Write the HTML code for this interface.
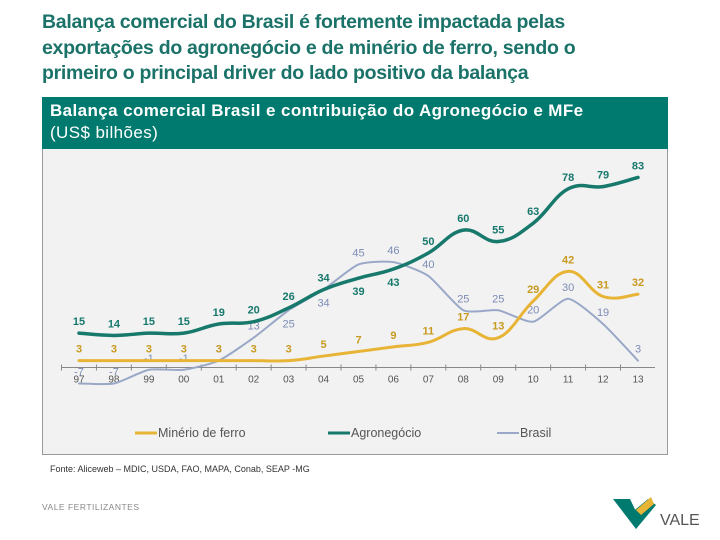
<!DOCTYPE html>
<html><head><meta charset="utf-8"><style>
body{margin:0;width:720px;height:540px;background:#fff;font-family:"Liberation Sans",sans-serif;position:relative;overflow:hidden}
.t{position:absolute;left:42px;top:10px;font-size:19.5px;font-weight:bold;color:#1a7268;line-height:25.5px;letter-spacing:-0.3px}
.hdr{position:absolute;left:42px;top:97px;width:626px;height:52px;background:#007a6e;color:#fff;font-size:17px;letter-spacing:0.4px;box-sizing:border-box;padding:3px 8px;line-height:22px}
.box{position:absolute;left:42px;top:149px;width:626px;height:306px;background:#f2f2f2;border:1px solid #999;border-top:none;box-sizing:border-box}
svg{position:absolute;left:0;top:0}
</style></head><body>
<div class="t">Balança comercial do Brasil é fortemente impactada pelas<br>exportações do agronegócio e de minério de ferro, sendo o<br>primeiro o principal driver do lado positivo da balança</div>
<div class="hdr"><b>Balança comercial Brasil e contribuição do Agronegócio e MFe</b><br>(US$ bilhões)</div>
<div class="box"></div>
<svg id="c" width="720" height="540"></svg>
<div style="position:absolute;left:50px;top:464px;font-size:9px;color:#333">Fonte: Aliceweb – MDIC, USDA, FAO, MAPA, Conab, SEAP -MG</div>
<div style="position:absolute;left:42px;top:502px;font-size:8.5px;color:#888;letter-spacing:0.5px">VALE FERTILIZANTES</div>
<svg width="720" height="540" style="pointer-events:none">
<polygon points="613,499 630,499 641,522 636,529" fill="#007a6e"/><polygon points="630,514 648,499 656,505 636,529" fill="#007a6e"/><polygon points="636,510 651,497 654,504 641,515" fill="#e8b436"/>
<text x="660" y="525" font-size="16" fill="#555" font-family="Liberation Sans">VALE</text></svg>
<script>
const years=["97","98","99","00","01","02","03","04","05","06","07","08","09","10","11","12","13"];
const minerio=[3,3,3,3,3,3,3,5,7,9,11,17,13,29,42,31,32];
const agro=[15,14,15,15,19,20,26,34,39,43,50,60,55,63,78,79,83];
const brasil=[-7,-7,-1,-1,3,13,25,34,45,46,40,25,25,20,30,19,3];
const agroBelow=[8,9];
const brasilBelow=[6,7];
const svg=document.getElementById('c');const NS='http://www.w3.org/2000/svg';
const x0=79,x1=638,y0=367.5,k=2.29;
const X=i=>x0+(x1-x0)*i/(years.length-1);
const Y=v=>y0-v*k;
function el(t,a,p){const e=document.createElementNS(NS,t);for(const n in a)e.setAttribute(n,a[n]);(p||svg).appendChild(e);return e;}
function path(vals,t){const p=vals.map((v,i)=>[X(i),Y(v)]);let d='M'+p[0];for(let i=0;i<p.length-1;i++){const a=p[Math.max(i-1,0)],b=p[i],c=p[i+1],e=p[Math.min(i+2,p.length-1)];d+=` C${b[0]+(c[0]-a[0])*t},${b[1]+(c[1]-a[1])*t} ${c[0]-(e[0]-b[0])*t},${c[1]-(e[1]-b[1])*t} ${c[0]},${c[1]}`;}return d;}
const ax=el('line',{x1:62,x2:655,y1:y0,y2:y0,stroke:'#888','stroke-width':1});

years.forEach((y,i)=>{const tk=el('line',{x1:X(i)-17.5,x2:X(i)-17.5,y1:y0-3,y2:y0+3,stroke:'#888'});

const t=el('text',{x:X(i),y:y0+15,'text-anchor':'middle','font-size':10,fill:'#555'});t.textContent=y;
});
function series(vals,color,w,lc,name,below,lbl,ten){
const p=el('path',{d:path(vals,ten),fill:'none',stroke:color,'stroke-width':w,'stroke-linecap':'round','stroke-linejoin':'round'});

vals.forEach((v,i)=>{const b=below.includes(i);const t=el('text',{x:X(i),y:Y(v)+(b?17:-8),'text-anchor':'middle','font-size':11,'font-weight':lbl?'bold':'normal',fill:lc});t.textContent=v;
});}
series(brasil,'#9aa8c8',2,'#7d8cb6','brasil',brasilBelow,false,0.1);
series(minerio,'#e8b436',3,'#c99a20','minerio',[],true,0.2);
series(agro,'#17786c',3.5,'#17786c','agro',agroBelow,true,0.2);
[['Minério de ferro','#e8b436',135,3],['Agronegócio','#17786c',328,3],['Brasil','#9aa8c8',497,2]].forEach(([n,c,x,w])=>{
const g=el('g',{});
el('line',{x1:x,x2:x+22,y1:433,y2:433,stroke:c,'stroke-width':w},g);
const t=el('text',{x:x+23,y:437,'font-size':12.5,fill:'#555'},g);t.textContent=n;});
</script>
</body></html>
